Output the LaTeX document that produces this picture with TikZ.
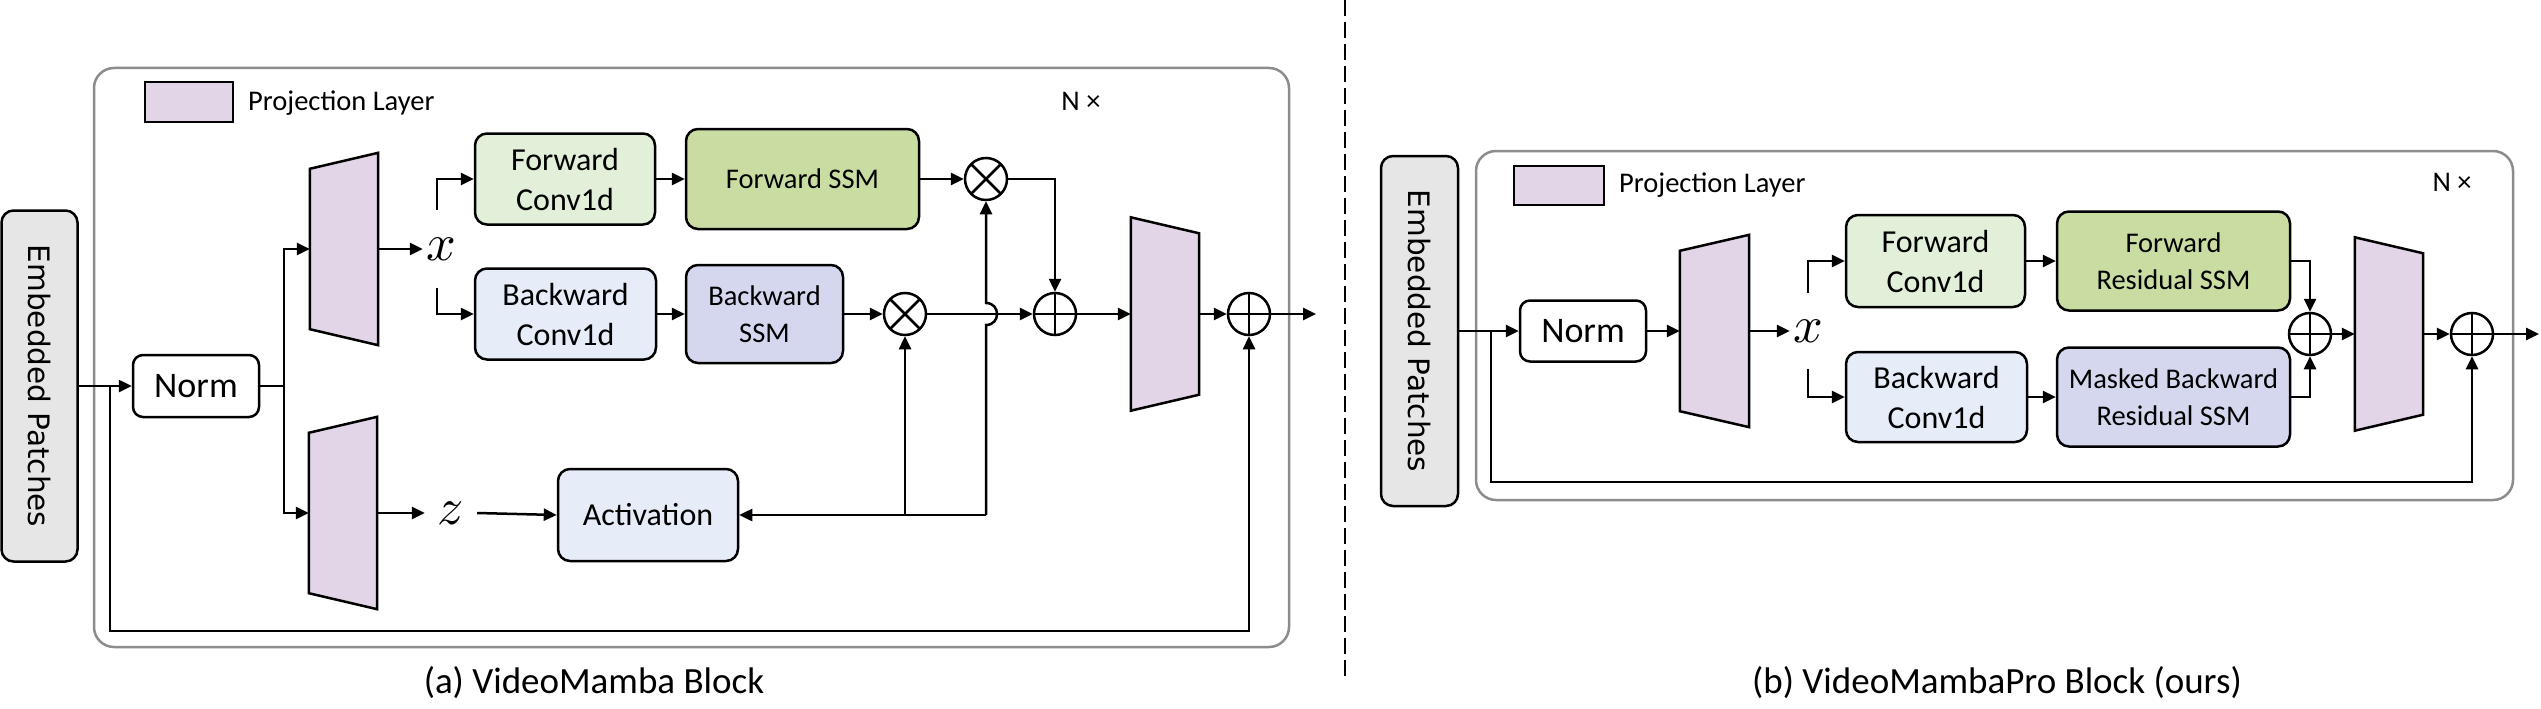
\documentclass[tikz,border=0pt]{standalone}
\usepackage{fontspec}
\usepackage{graphicx}
\setmainfont{Carlito}
\newfontfamily\dejavu{DejaVu Sans}
\usetikzlibrary{arrows.meta,calc}
\definecolor{projc}{HTML}{E1D5E7}
\definecolor{fconvc}{HTML}{E2EFD9}
\definecolor{fssmc}{HTML}{C9DCA2}
\definecolor{bconvc}{HTML}{E6ECF8}
\definecolor{bssmc}{HTML}{D5D7EE}
\definecolor{epc}{HTML}{E6E6E6}
\definecolor{framec}{HTML}{8C8C8C}
\newcommand{\bigvar}[1]{\scalebox{5.2}{$#1$}}
\tikzset{
  box/.style={draw, line width=2.5pt, rounded corners=12pt, inner sep=0pt, align=center},
  conv/.style={box, font=\fontsize{32}{40}\selectfont},
  ssm/.style={box, font=\fontsize{28.5}{37}\selectfont},
  normbox/.style={box, rounded corners=10pt, fill=white, minimum width=126pt, minimum height=62pt, font=\fontsize{36}{40}\selectfont},
  epbox/.style={box, fill=epc, minimum width=76pt, minimum height=351pt},
  eptext/.style={rotate=-90, font=\dejavu\fontsize{29.5}{34}\selectfont, inner sep=0pt},
  conn/.style={line width=2.5pt, -{Triangle[length=13pt,width=12pt]}},
  plain/.style={line width=2.5pt},
  frame/.style={draw=framec, line width=2.5pt, rounded corners=20pt},
  leg/.style={draw, line width=2.5pt, fill=projc, minimum width=88pt, minimum height=40pt, inner sep=0pt},
  legtext/.style={anchor=west, inner sep=0pt, font=\fontsize{28.5}{34}\selectfont},
  ntext/.style={inner sep=0pt, font=\fontsize{28.5}{34}\selectfont},
  captext/.style={inner sep=0pt, font=\fontsize{37}{44}\selectfont},
  var/.style={inner sep=0pt},
  proj/.style={minimum width=68pt, minimum height=192pt, inner sep=0pt},
  trap/.style={draw, line width=2.5pt, fill=projc, line join=miter},
  op/.style={circle, draw, line width=2.5pt, minimum size=42pt, inner sep=0pt,
    path picture={\draw[line width=2.5pt] (path picture bounding box.north) -- (path picture bounding box.south)
      (path picture bounding box.west) -- (path picture bounding box.east);}},
  ot/.style={circle, draw, line width=2.5pt, minimum size=42pt, inner sep=0pt,
    path picture={\draw[line width=2.5pt]
      ([shift={(45:22pt)}]path picture bounding box.center) -- ([shift={(225:22pt)}]path picture bounding box.center)
      ([shift={(135:22pt)}]path picture bounding box.center) -- ([shift={(-45:22pt)}]path picture bounding box.center);}},
}
\begin{document}
\begin{tikzpicture}[x=1pt,y=-1pt]
\useasboundingbox (0,0) rectangle (2541,709);
% frames and divider
\draw[frame] (94,68) rectangle (1289,647);
\draw[frame] (1476,151) rectangle (2513,500);
\draw[line width=2.5pt, dash pattern=on 16pt off 6pt] (1345,0) -- (1345,676);

% ================= (a) =================
\node[leg] (legA) at (189,102) {};
\node[legtext] (legtA) at (248,103) {Projection Layer};
\node[ntext] (nA) at (1081,101) {N ×};

\node[epbox] (epA) at (39.5,386) {};
\node[eptext] (epAt) at (epA) {Embedded Patches};
\node[normbox] (normA) at (196,386) {Norm};

\node[proj] (p1A) at (344,249) {};
\draw[trap] ($(p1A.north west)+(0,16)$) -- (p1A.north east) -- (p1A.south east) -- ($(p1A.south west)+(0,-16)$) -- cycle;
\node[proj] (p2A) at (343,513) {};
\draw[trap] ($(p2A.north west)+(0,16)$) -- (p2A.north east) -- (p2A.south east) -- ($(p2A.south west)+(0,-16)$) -- cycle;
\node[proj, minimum height=193pt] (p3A) at (1165,314) {};
\draw[trap] (p3A.north west) -- ($(p3A.north east)+(0,16)$) -- ($(p3A.south east)+(0,-16)$) -- (p3A.south west) -- cycle;

\node[var, minimum width=36pt] (xA) at (441,249) {\bigvar{x}};
\node[var, minimum width=52pt] (zA) at (451,513) {\bigvar{z}};

\node[conv, fill=fconvc, minimum width=180pt, minimum height=91pt] (fconvA) at (565,179) {Forward\\Conv1d};
\node[conv, fill=bconvc, minimum width=181pt, minimum height=91pt] (bconvA) at (565.5,314) {Backward\\Conv1d};
\node[ssm, fill=fssmc, minimum width=233pt, minimum height=100pt] (fssmA) at (802.5,179) {Forward SSM};
\node[ssm, fill=bssmc, minimum width=157pt, minimum height=98pt] (bssmA) at (764.5,314) {Backward\\SSM};
\node[conv, fill=bconvc, minimum width=180pt, minimum height=92pt] (actA) at (648,515) {Activation};

\node[ot] (ot1A) at (986,179) {};
\node[ot] (ot2A) at (905,314) {};
\node[op] (op1A) at (1055,314) {};
\node[op] (op2A) at (1249,314) {};

\coordinate (rA) at (110,386);
\coordinate (rAb) at (110,631);
\coordinate (sA) at (284,386);
\coordinate (xAt) at (437,210);
\coordinate (xAb) at (437,288);
\coordinate (jA) at (986,515);
\coordinate (outA) at (1316,314);

\draw[conn] (epA) -- (normA);
\draw[conn] (rA) -- (rAb) -| (op2A.south);
\draw[plain] (normA.east) -- (sA);
\draw[conn] (sA) |- (p1A.west);
\draw[conn] (sA) |- (p2A.west);
\draw[conn] (p1A.east) -- (xA.west);
\draw[conn] (p2A.east) -- (zA.west);
\draw[conn] (xAt) |- (fconvA.west);
\draw[conn] (xAb) |- (bconvA.west);
\draw[conn] (fconvA) -- (fssmA);
\draw[conn] (bconvA) -- (bssmA);
\draw[conn] (fssmA) -- (ot1A);
\draw[conn] (bssmA) -- (ot2A);
\draw[conn] (ot1A.east) -| (op1A.north);
\draw[conn] (ot2A) -- (op1A);
\draw[conn] (zA.east) -- (actA.west);
\draw[conn] (jA) -- (actA.east);
\draw[conn] (ot2A |- jA) -- (ot2A.south);
\draw[conn] (jA) -- ($(ot1A |- op1A)+(0,11)$) .. controls +(14.7,0) and +(14.7,0) .. ($(ot1A |- op1A)+(0,-11)$) -- (ot1A.south);
\draw[conn] (op1A) -- (p3A.west);
\draw[conn] (p3A.east) -- (op2A.west);
\draw[conn] (op2A.east) -- (outA);

\node[captext] (capA) at (594,683) {(a) VideoMamba Block};

% ================= (b) =================
\node[leg, minimum width=90pt, minimum height=39pt] (legB) at (1559,185.5) {};
\node[legtext] (legtB) at (1619,185) {Projection Layer};
\node[ntext] (nB) at (2452,182) {N ×};

\node[epbox, minimum width=77pt, minimum height=350pt] (epB) at (1419.5,331) {};
\node[eptext] (epBt) at (epB) {Embedded Patches};
\node[normbox, minimum height=61pt] (normB) at (1583,331) {Norm};

\node[proj, minimum width=69pt] (p1B) at (1714.5,331) {};
\draw[trap] ($(p1B.north west)+(0,16)$) -- (p1B.north east) -- (p1B.south east) -- ($(p1B.south west)+(0,-16)$) -- cycle;
\node[proj, minimum height=193pt] (p2B) at (2389,334) {};
\draw[trap] (p2B.north west) -- ($(p2B.north east)+(0,16)$) -- ($(p2B.south east)+(0,-16)$) -- (p2B.south west) -- cycle;

\node[var, minimum width=36pt] (xB) at (1808,331) {\bigvar{x}};

\node[conv, fill=fconvc, minimum width=179pt, minimum height=92pt] (fconvB) at (1935.5,261) {Forward\\Conv1d};
\node[conv, fill=bconvc, minimum width=181pt, minimum height=90pt] (bconvB) at (1936.5,397) {Backward\\Conv1d};
\node[ssm, fill=fssmc, minimum width=233pt, minimum height=99pt] (frssmB) at (2173.5,261) {Forward\\Residual SSM};
\node[ssm, fill=bssmc, minimum width=233pt, minimum height=99pt] (mbrssmB) at (2173.5,397) {Masked Backward\\Residual SSM};

\node[op] (opB) at (2310,334) {};
\node[op] (op2B) at (2472,334) {};

\coordinate (rB) at (1491,331);
\coordinate (rBb) at (1491,482);
\coordinate (xBt) at (1808,293);
\coordinate (xBb) at (1808,369);
\coordinate (outB) at (2539,334);

\draw[conn] (epB) -- (normB);
\draw[conn] (rB) -- (rBb) -| (op2B.south);
\draw[conn] (normB) -- (p1B.west);
\draw[conn] (p1B.east) -- (xB.west);
\draw[conn] (xBt) |- (fconvB.west);
\draw[conn] (xBb) |- (bconvB.west);
\draw[conn] (fconvB) -- (frssmB);
\draw[conn] (bconvB) -- (mbrssmB);
\draw[conn] (frssmB.east) -| (opB.north);
\draw[conn] (mbrssmB.east) -| (opB.south);
\draw[conn] (opB) -- (p2B.west);
\draw[conn] (p2B.east) -- (op2B.west);
\draw[conn] (op2B.east) -- (outB);

\node[captext] (capB) at (1997,683) {(b) VideoMambaPro Block (ours)};
\end{tikzpicture}
\end{document}
